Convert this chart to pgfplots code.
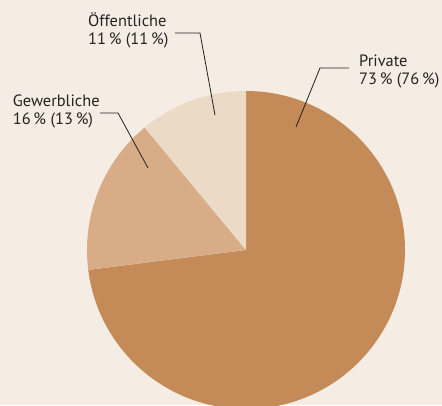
\documentclass[border=0pt]{standalone}
\usepackage{fontspec}
\setmainfont{PT Sans}
\usepackage{pgfplots}
\usepackage{pgfplotstable}
\pgfplotsset{compat=1.18}

\definecolor{bg}{RGB}{245,237,227}
\definecolor{priv}{RGB}{196,138,88}
\definecolor{gew}{RGB}{216,172,134}
\definecolor{oef}{RGB}{235,218,198}
\definecolor{txt}{RGB}{35,35,35}

% shares in percent, clockwise from 12 o'clock
\pgfplotstableread{
name         value
Private      73
Gewerbliche  16
Oeffentliche 11
}\piedata
\pgfplotstablegetelem{0}{value}\of\piedata \let\vA\pgfplotsretval
\pgfplotstablegetelem{1}{value}\of\piedata \let\vB\pgfplotsretval
\pgfplotstablegetelem{2}{value}\of\piedata \let\vC\pgfplotsretval
\pgfmathsetmacro\aA{90}
\pgfmathsetmacro\aB{\aA-3.6*\vA}
\pgfmathsetmacro\aC{\aB-3.6*\vB}
\pgfmathsetmacro\aD{\aC-3.6*\vC}
\def\R{4.77}

\begin{document}
\begin{tikzpicture}[font=\fontsize{14}{16.2}\selectfont]
\begin{axis}[
  x=1cm, y=1cm, scale only axis, hide axis,
  disabledatascaling,
  xmin=-7.38, xmax=5.88, ymin=-4.65, ymax=7.5,
  clip=false,
]
\coordinate (sw) at (axis cs:-7.38,-4.65);
\coordinate (ne) at (axis cs:5.88,7.5);
\begin{scope}
\clip (sw) rectangle (ne);
\fill[bg] (sw) rectangle (ne);
\fill[priv] (axis cs:0,0) -- ++(\aA:\R) arc[start angle=\aA, end angle=\aB, radius=\R] -- cycle;
\fill[gew]  (axis cs:0,0) -- ++(\aB:\R) arc[start angle=\aB, end angle=\aC, radius=\R] -- cycle;
\fill[oef]  (axis cs:0,0) -- ++(\aC:\R) arc[start angle=\aC, end angle=\aD, radius=\R] -- cycle;
\end{scope}
% leader lines
\draw[txt, line width=0.7pt] (axis cs:3.09,5.46) -- (axis cs:2.22,5.46) -- (axis cs:1.5,3.69);
\draw[txt, line width=0.7pt] (axis cs:-4.38,4.11) -- (axis cs:-3.84,4.11) -- (axis cs:-2.94,2.46);
\draw[txt, line width=0.7pt] (axis cs:-2.13,6.51) -- (axis cs:-1.38,6.51) -- (axis cs:-0.93,4.05);
% labels (anchor = baseline of the last line)
\node[txt, anchor=base west, inner sep=0pt, align=left] at (axis cs:3.39,4.95) {Private\\73\,\% (76\,\%)};
\node[txt, anchor=base west, inner sep=0pt, align=left] at (axis cs:-7.0,3.75) {Gewerbliche\\16\,\% (13\,\%)};
\node[txt, anchor=base west, inner sep=0pt, align=left] at (axis cs:-4.74,6.15) {Öffentliche\\11\,\% (11\,\%)};
\end{axis}
\pgfresetboundingbox
\useasboundingbox (sw) rectangle (ne);
\end{tikzpicture}
\end{document}
